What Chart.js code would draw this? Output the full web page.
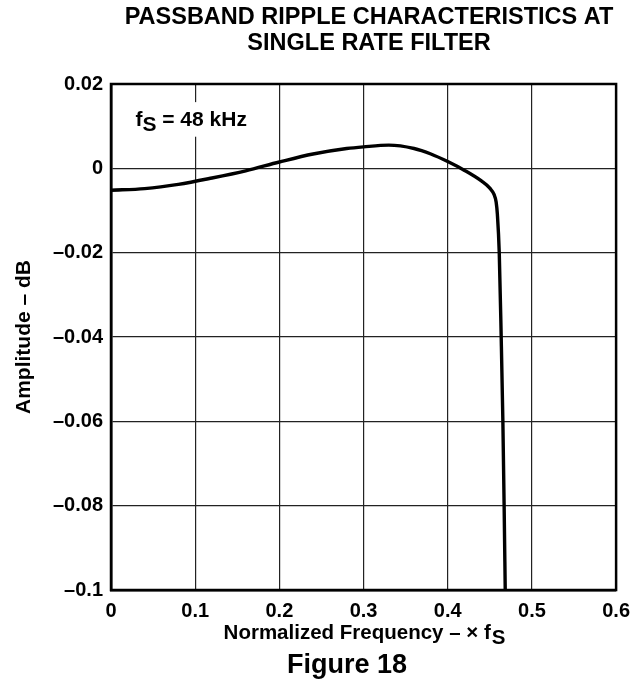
<!DOCTYPE html>
<html>
<head>
<meta charset="utf-8">
<script src="https://cdn.jsdelivr.net/npm/chart.js@4/dist/chart.umd.min.js"></script>
<style>
  html, body { margin: 0; padding: 0; background: #fff; }
  #wrap { width: 639px; height: 690px; }
</style>
</head>
<body>
<div id="wrap"><canvas id="c" width="639" height="690"></canvas></div>
<script>
// ---- data ----
const frequency = [0, 0.04, 0.08, 0.12, 0.16, 0.2, 0.24, 0.28, 0.3, 0.33, 0.36, 0.38, 0.4, 0.42, 0.44, 0.45, 0.455, 0.4575, 0.459, 0.4612, 0.4635, 0.4655, 0.467, 0.4683];
const amplitude = [-0.0052, -0.0048, -0.0038, -0.0023, -0.0006, 0.0015, 0.0034, 0.0047, 0.0051, 0.0055, 0.0047, 0.0034, 0.0016, -0.0005, -0.003, -0.0047, -0.0062, -0.008, -0.011, -0.02, -0.04, -0.06, -0.08, -0.1];
const xTickValues = [0, 0.1, 0.2, 0.3, 0.4, 0.5, 0.6];
const xTickLabels = ['0', '0.1', '0.2', '0.3', '0.4', '0.5', '0.6'];
const yTickValues = [-0.1, -0.08, -0.06, -0.04, -0.02, 0, 0.02];
const yTickLabels = ['\u20130.1', '\u20130.08', '\u20130.06', '\u20130.04', '\u20130.02', '0', '0.02'];
const titleLines = ['PASSBAND RIPPLE CHARACTERISTICS AT', 'SINGLE RATE FILTER'];
const xTitle = 'Normalized Frequency \u2013 \u00d7 f';
const xTitleSub = 'S';
const yTitle = 'Amplitude \u2013 dB';
const noteMain = 'f';
const noteSub = 'S';
const noteRest = ' = 48 kHz';
const figureLabel = 'Figure 18';

const FONT = '"Liberation Sans", Arial, Helvetica, sans-serif';

const points = frequency.map((f, i) => ({ x: f, y: amplitude[i] }));

const decor = {
  id: 'decor',
  beforeDatasetsDraw(chart) {
    const ctx = chart.ctx;
    const xs = chart.scales.x, ys = chart.scales.y;
    ctx.save();
    ctx.fillStyle = '#fff';
    const x0 = xs.getPixelForValue(0.022), x1 = xs.getPixelForValue(0.17);
    const y0 = ys.getPixelForValue(0.0157), y1 = ys.getPixelForValue(0.0075);
    ctx.fillRect(x0, y0, x1 - x0, y1 - y0);
    ctx.restore();
  },
  afterDatasetsDraw(chart) {
    const ctx = chart.ctx;
    const a = chart.chartArea;
    ctx.save();
    ctx.strokeStyle = '#000';
    ctx.lineWidth = 2.5;
    ctx.strokeRect(a.left, a.top, a.right - a.left, a.bottom - a.top);
    ctx.restore();
  },
  afterDraw(chart) {
    const ctx = chart.ctx;
    const a = chart.chartArea;
    const xs = chart.scales.x, ys = chart.scales.y;
    ctx.save();
    ctx.fillStyle = '#000';
    ctx.textBaseline = 'middle';
    // title
    ctx.textAlign = 'center';
    ctx.font = 'bold 23.5px ' + FONT;
    ctx.fillText(titleLines[0], 369, 18);
    ctx.fillText(titleLines[1], 369, 44);
    // x title with subscript
    ctx.font = 'bold 20.5px ' + FONT;
    const w1 = ctx.measureText(xTitle).width;
    const w2 = ctx.measureText(xTitleSub).width;
    const xtStart = 364 - (w1 + w2) / 2;
    ctx.textAlign = 'left';
    ctx.fillText(xTitle, xtStart, 633);
    ctx.fillText(xTitleSub, xtStart + w1 + 1, 638);
    // figure label
    ctx.textAlign = 'center';
    ctx.font = 'bold 27px ' + FONT;
    ctx.fillText(figureLabel, 347, 666);
    // y title
    ctx.save();
    ctx.translate(24, (a.top + a.bottom) / 2);
    ctx.rotate(-Math.PI / 2);
    ctx.font = 'bold 21px ' + FONT;
    ctx.textAlign = 'center';
    ctx.fillText(yTitle, 0, 0);
    ctx.restore();
    // note
    ctx.textAlign = 'left';
    ctx.font = 'bold 21px ' + FONT;
    const nx = xs.getPixelForValue(0.029);
    const ny = ys.getPixelForValue(0.0115);
    ctx.fillText(noteMain, nx, ny);
    const wm = ctx.measureText(noteMain).width;
    ctx.fillText(noteSub, nx + wm, ny + 5);
    const ws = ctx.measureText(noteSub).width;
    ctx.fillText(noteRest, nx + wm + ws, ny);
    ctx.restore();
  }
};

new Chart(document.getElementById('c'), {
  type: 'scatter',
  data: {
    datasets: [{
      data: points,
      showLine: true,
      borderColor: '#000',
      borderWidth: 3.4,
      pointRadius: 0,
      fill: false,
      cubicInterpolationMode: 'monotone'
    }]
  },
  options: {
    responsive: false,
    animation: false,
    devicePixelRatio: 1,
    layout: { padding: { left: 0, right: 22, top: 84, bottom: 0 } },
    plugins: { legend: { display: false }, tooltip: { enabled: false }, title: { display: false } },
    scales: {
      x: {
        type: 'linear', min: 0, max: 0.6,
        afterBuildTicks: (axis) => { axis.ticks = xTickValues.map(v => ({ value: v })); },
        afterFit: (scale) => { scale.height = 100; },
        grid: { color: '#222', lineWidth: 1.2, drawTicks: false },
        border: { display: true, color: '#000', width: 2.5 },
        ticks: {
          padding: 9,
          color: '#000',
          font: { family: FONT, weight: 'bold', size: 20 },
          maxRotation: 0,
          callback: (v, i) => xTickLabels[i]
        }
      },
      y: {
        type: 'linear', min: -0.1, max: 0.02,
        afterBuildTicks: (axis) => { axis.ticks = yTickValues.map(v => ({ value: v })); },
        afterFit: (scale) => { scale.width = 111; },
        grid: { color: '#222', lineWidth: 1.2, drawTicks: false },
        border: { display: true, color: '#000', width: 2.5 },
        ticks: {
          padding: 8,
          color: '#000',
          font: { family: FONT, weight: 'bold', size: 20 },
          callback: (v, i) => yTickLabels[i]
        }
      }
    }
  },
  plugins: [decor]
});
</script>
</body>
</html>
